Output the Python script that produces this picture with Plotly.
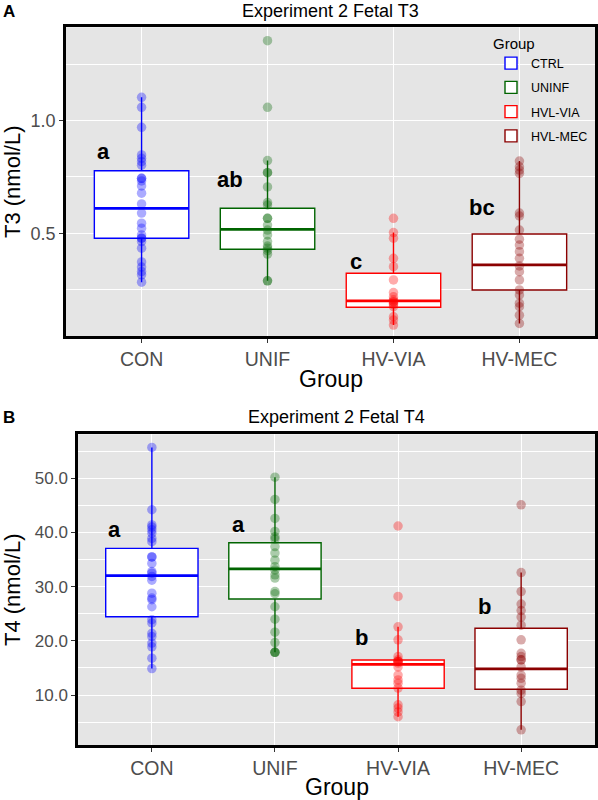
import math
import plotly.graph_objects as go

# ---------------- data ----------------
categories = ["CON", "UNIF", "HV-VIA", "HV-MEC"]
legend_names = ["CTRL", "UNINF", "HVL-VIA", "HVL-MEC"]
colors = ["#0000FF", "#006400", "#FF0000", "#8B0000"]
point_rgba = ["rgba(0,0,255,0.33)", "rgba(0,100,0,0.33)", "rgba(255,0,0,0.33)", "rgba(139,0,0,0.33)"]

# Panel A: T3 (nmol/L), log scale
t3_con = [1.155, 1.086, 0.960, 0.810, 0.793, 0.777, 0.760, 0.701, 0.701, 0.690, 0.669,
          0.640, 0.599, 0.566, 0.532, 0.516, 0.495, 0.485, 0.485, 0.475, 0.456, 0.419,
          0.406, 0.395, 0.387, 0.370]
t3_unif = [1.636, 1.086, 0.782, 0.726, 0.726, 0.665, 0.604, 0.595, 0.548, 0.548, 0.526,
           0.510, 0.495, 0.475, 0.462, 0.456, 0.449, 0.440, 0.373, 0.373]
t3_via = [0.548, 0.502, 0.485, 0.4285, 0.407, 0.375, 0.347, 0.338, 0.332, 0.328, 0.328,
          0.325, 0.322, 0.318, 0.299, 0.293, 0.284]
t3_mec = [0.780, 0.753, 0.738, 0.723, 0.566, 0.556, 0.510, 0.482, 0.465, 0.4465, 0.4285,
          0.4088, 0.3947, 0.375, 0.3526, 0.342, 0.325, 0.318, 0.302, 0.287]
t3_q1 = [0.485, 0.453, 0.317, 0.3526]
t3_median = [0.583, 0.512, 0.3296, 0.4113]
t3_q3 = [0.735, 0.583, 0.391, 0.4978]
t3_lower = [0.370, 0.373, 0.284, 0.287]
t3_upper = [1.155, 0.782, 0.502, 0.780]
t3_letters = ["a", "ab", "c", "bc"]
t3_letter_y = [0.826, 0.694, 0.42, 0.585]
t3_ticks = [0.5, 1.0]
t3_range = [0.2656, 1.777]

# Panel B: T4 (nmol/L), linear scale
t4_con = [55.7, 44.2, 41.4, 41.0, 40.5, 39.9, 38.9, 38.3, 35.5, 35.5, 34.3, 32.8, 32.5,
          31.9, 31.2, 28.8, 27.9, 27.6, 26.3, 23.9, 23.3, 21.4, 20.8, 19.6, 18.9, 16.8, 14.9]
t4_unif = [50.2, 46.1, 42.6, 40.2, 39.2, 38.8, 37.4, 36.2, 34.9, 33.7, 33.1, 32.2, 31.6,
           29.1, 28.7, 26.3, 24.0, 21.6, 19.7, 17.9, 17.9, 17.9]
t4_via = [41.2, 28.2, 22.6, 20.2, 17.1, 16.5, 16.2, 16.2, 16.2, 15.9, 15.2, 13.7, 12.8,
          12.2, 11.3, 8.2, 7.6, 6.9, 6.0]
t4_mec = [45.1, 32.6, 29.1, 26.8, 25.6, 24.4, 22.9, 20.2, 17.7, 17.1, 16.5, 16.5, 15.2,
          13.7, 13.1, 12.2, 10.9, 10.3, 8.8, 3.6]
t4_q1 = [24.46, 27.73, 11.25, 11.07]
t4_median = [32.03, 33.27, 15.68, 14.82]
t4_q3 = [37.08, 38.12, 16.48, 22.32]
t4_lower = [14.9, 17.9, 6.0, 3.6]
t4_upper = [55.7, 50.2, 22.6, 32.6]
t4_letters = ["a", "a", "b", "b"]
t4_letter_y = [40.6, 41.4, 20.6, 26.3]
t4_ticks = [10, 20, 30, 40, 50]
t4_range = [0.79, 58.12]

t3_points = [t3_con, t3_unif, t3_via, t3_mec]
t4_points = [t4_con, t4_unif, t4_via, t4_mec]

# ---------------- figure ----------------
W, H = 598, 800
FONT = "Liberation Sans, Arial, Helvetica, sans-serif"
BOX_W = 0.75
LETTER_DX = -0.3
positions = list(range(len(categories)))


def px(x):
    return x / W


def py(y):
    return 1 - y / H


fig = go.Figure()

panels = [
    dict(xa="x", ya="y", pts=t3_points, q1=t3_q1, med=t3_median, q3=t3_q3,
         lo=t3_lower, hi=t3_upper, legend=True),
    dict(xa="x2", ya="y2", pts=t4_points, q1=t4_q1, med=t4_median, q3=t4_q3,
         lo=t4_lower, hi=t4_upper, legend=False),
]

for p in panels:
    for i, pos in enumerate(positions):
        fig.add_trace(go.Box(
            x=[pos], q1=[p["q1"][i]], median=[p["med"][i]], q3=[p["q3"][i]],
            lowerfence=[p["lo"][i]], upperfence=[p["hi"][i]],
            name=legend_names[i], legendgroup=legend_names[i],
            showlegend=p["legend"], fillcolor="white",
            line=dict(color=colors[i], width=1.4), whiskerwidth=0, width=BOX_W,
            boxpoints=False, xaxis=p["xa"], yaxis=p["ya"], hoverinfo="skip"))
        # thicker median bar, as in ggplot's boxplot
        fig.add_trace(go.Scatter(
            x=[pos - BOX_W / 2, pos + BOX_W / 2], y=[p["med"][i]] * 2, mode="lines",
            line=dict(color=colors[i], width=2.8), showlegend=False,
            xaxis=p["xa"], yaxis=p["ya"], hoverinfo="skip"))
        fig.add_trace(go.Scatter(
            x=[pos] * len(p["pts"][i]), y=p["pts"][i], mode="markers",
            marker=dict(color=point_rgba[i], size=9.5, line=dict(width=0)),
            showlegend=False, xaxis=p["xa"], yaxis=p["ya"], hoverinfo="skip"))

annotations = []
for i, (lt, ly) in enumerate(zip(t3_letters, t3_letter_y)):
    annotations.append(dict(x=positions[i] + LETTER_DX, y=math.log10(ly), xref="x", yref="y",
                            text="<b>%s</b>" % lt, showarrow=False,
                            font=dict(size=22, color="black", family=FONT),
                            xanchor="center", yanchor="middle"))
for i, (lt, ly) in enumerate(zip(t4_letters, t4_letter_y)):
    annotations.append(dict(x=positions[i] + LETTER_DX, y=ly, xref="x2", yref="y2",
                            text="<b>%s</b>" % lt, showarrow=False,
                            font=dict(size=22, color="black", family=FONT),
                            xanchor="center", yanchor="middle"))


def ann(text, x, y, size, color="black", angle=0, bold=False, xanchor="center"):
    annotations.append(dict(text=("<b>%s</b>" % text) if bold else text,
                            x=px(x), y=py(y), xref="paper", yref="paper", showarrow=False,
                            textangle=angle, xanchor=xanchor, yanchor="middle",
                            font=dict(size=size, color=color, family=FONT)))


ann("A", 1, 11, 17, bold=True, xanchor="left")
ann("B", 1, 417, 17, bold=True, xanchor="left")
ann("Experiment 2 Fetal T3", 330.5, 11, 18)
ann("Experiment 2 Fetal T4", 336.5, 417, 18)
ann("T3 (nmol/L)", 12, 182, 22, angle=-90)
ann("T4 (nmol/L)", 12, 590, 22, angle=-90)
ann("Group", 330.5, 379, 23)
ann("Group", 336.5, 787, 23)

axis_common = dict(showline=True, mirror=True, linecolor="black", linewidth=2.5,
                   gridcolor="white", gridwidth=1.2, zeroline=False,
                   ticks="outside", ticklen=4, tickcolor="#333333", tickwidth=1)

t3_minor = [math.sqrt(t3_ticks[0] * t3_ticks[1]),
            t3_ticks[1] * math.sqrt(t3_ticks[1] / t3_ticks[0]),
            t3_ticks[0] * math.sqrt(t3_ticks[0] / t3_ticks[1])]
t4_minor = [t - 5 for t in t4_ticks] + [t4_ticks[-1] + 5]

xcat = dict(range=[-0.6, len(categories) - 0.4], tickmode="array", tickvals=positions,
            ticktext=categories, tickfont=dict(size=19.5, color="#4D4D4D", family=FONT))

fig.update_layout(
    width=W, height=H, margin=dict(l=0, r=0, t=0, b=0),
    paper_bgcolor="white", plot_bgcolor="#E5E5E5",
    font=dict(family=FONT),
    boxmode="overlay",
    xaxis=dict(domain=[px(66), px(595)], anchor="y", **xcat, **axis_common),
    yaxis=dict(domain=[py(336), py(27.3)], anchor="x", type="log",
               range=[math.log10(t3_range[0]), math.log10(t3_range[1])],
               tickmode="array", tickvals=t3_ticks,
               ticktext=["%.1f" % v for v in t3_ticks],
               tickfont=dict(size=18, color="#4D4D4D", family=FONT),
               minor=dict(tickmode="array", tickvals=t3_minor, showgrid=True,
                          gridcolor="white", gridwidth=0.6, ticks=""),
               **axis_common),
    xaxis2=dict(domain=[px(78), px(595)], anchor="y2", **xcat, **axis_common),
    yaxis2=dict(domain=[py(745), py(434.3)], anchor="x2", range=t4_range,
                tickmode="array", tickvals=t4_ticks,
                ticktext=["%.1f" % v for v in t4_ticks],
                tickfont=dict(size=17, color="#4D4D4D", family=FONT),
                minor=dict(tickmode="array", tickvals=t4_minor, showgrid=True,
                           gridcolor="white", gridwidth=0.6, ticks=""),
                **axis_common),
    legend=dict(x=px(491), y=py(29), xanchor="left", yanchor="top",
                bgcolor="rgba(0,0,0,0)", tracegroupgap=5,
                title=dict(text="Group", font=dict(size=15, color="black", family=FONT)),
                font=dict(size=12.5, color="black", family=FONT)),
    annotations=annotations,
)

# remove the default page margin so the figure fills the 598x800 window exactly
fig.write_html("out.html", config={"displayModeBar": False},
               post_script="document.body.style.margin='0';document.body.style.padding='0';")
